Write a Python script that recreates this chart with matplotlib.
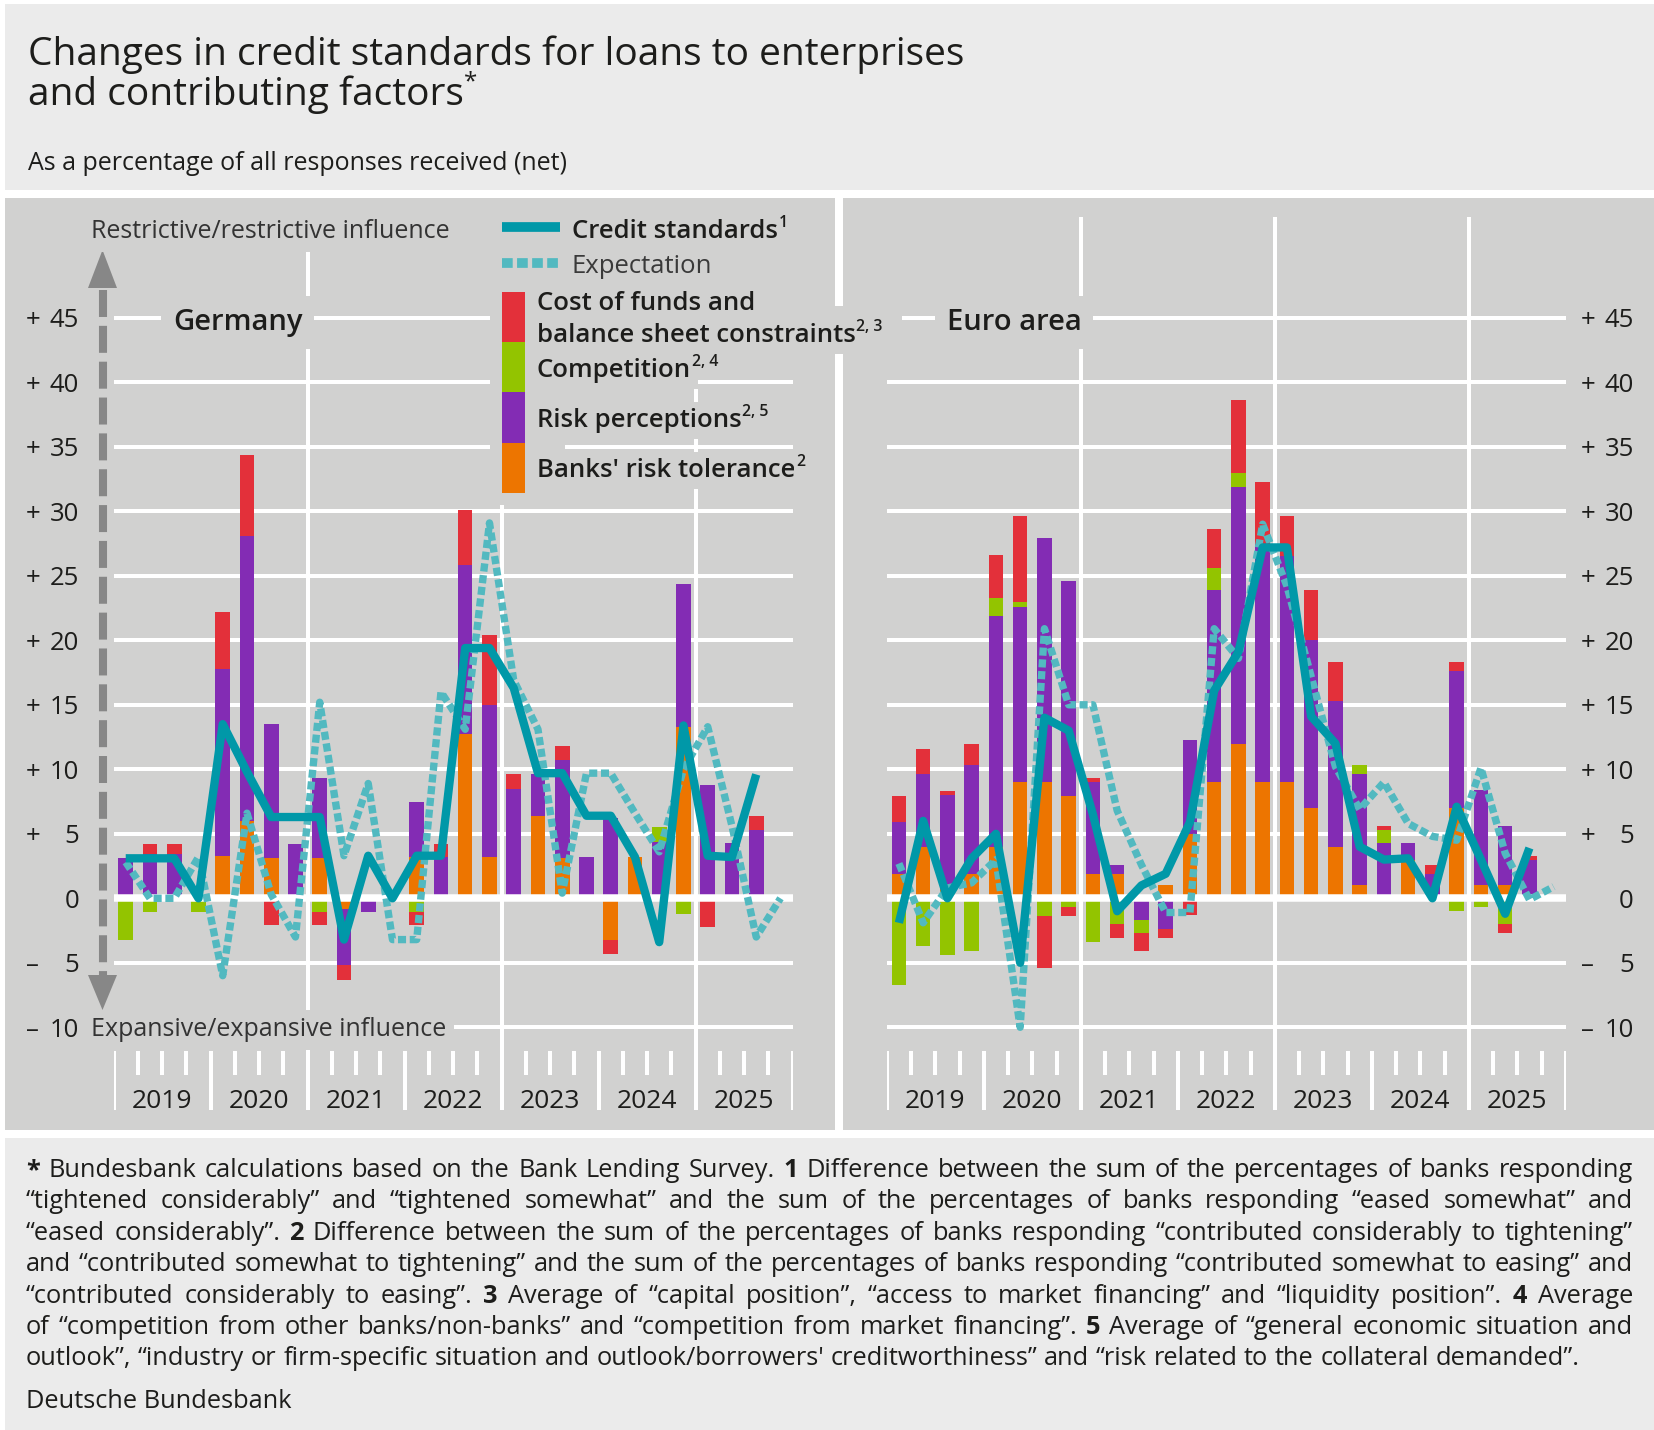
import numpy as np
import matplotlib.pyplot as plt
from matplotlib.patches import Rectangle, Polygon

plt.rcParams['font.family'] = ['Open Sans', 'DejaVu Sans']

W, H = 1654, 1430
PANEL = '#d1d1d0'
LIGHT = '#ebebeb'
INK = '#1d1d1b'
C_FUND = '#e3303a'
C_COMP = '#93c400'
C_RISK = '#832cb4'
C_TOL = '#ed7500'
C_STD = '#0098a8'
C_EXP = '#52b9c0'

years = ['2019', '2020', '2021', '2022', '2023', '2024', '2025']
# quarterly values 2019 Q1 ... 2025 Q3 (expectation runs one quarter longer)

# Germany
de_tolerance = [0, 0, 0, 0, 3.3, 6.0, 3.1, 0, 3.1, -0.8, 0, 0, 3.2, 0, 12.7, 3.2,
                0, 6.4, 3.1, 0, -3.2, 3.2, 0, 13.3, 0, 0, 0]
de_risk = [3.1, 3.4, 3.4, 0, 14.5, 22.1, 10.4, 4.2, 6.2, -4.4, -1.1, 0, 4.3, 3.2, 13.1, 11.8,
           8.5, 3.2, 7.6, 3.2, 6.2, 0, 4.4, 11.1, 8.8, 4.3, 5.3]
de_competition = [-3.2, -1.1, 0, -1.1, 0, 0, 0, 0, -1.1, 0, 0, 0, -1.1, 0, 0, 0,
                  0, 0, 0, 0, 0, 0, 1.1, -1.2, 0, 0, 0]
de_funding = [0, 0.8, 0.8, 0, 4.4, 6.3, -2.1, 0, -1.0, -1.1, 0, 0, -1.0, 1.0, 4.3, 5.4,
              1.1, 0, 1.1, 0, -1.1, 0, 0, 0, -2.2, 0, 1.1]
de_standards = [3.1, 3.1, 3.1, 0, 13.5, 9.8, 6.3, 6.3, 6.3, -3.2, 3.3, 0, 3.3, 3.3, 19.4, 19.4,
                16.3, 9.7, 9.7, 6.4, 6.4, 3.2, -3.4, 13.4, 3.3, 3.2, 9.6]
de_expectation = [2.8, 0, 0, 3.2, -6.0, 6.6, 0.3, -3.0, 15.2, 3.3, 8.9, -3.2, -3.2, 16.0, 13.1, 29.1,
                  16.9, 13.1, 0.4, 9.7, 9.7, 6.6, 3.6, 10.0, 13.3, 5.6, -3.0, 0]

# Euro area
ea_tolerance = [1.9, 4.0, 1.0, 1.9, 4.0, 9.0, 9.0, 7.9, 1.9, 1.9, 0, 1.0, 5.0, 9.0, 12.0, 9.0,
                9.0, 7.0, 4.0, 1.0, 0, 3.0, 0, 7.0, 1.0, 1.0, 0]
ea_risk = [4.0, 5.6, 7.0, 8.4, 17.9, 13.6, 18.9, 16.7, 7.1, 0.7, -1.7, -2.4, 7.3, 14.9, 19.9, 18.5,
           17.5, 13.0, 11.3, 8.6, 4.3, 1.3, 1.9, 10.6, 7.4, 4.6, 3.0]
ea_competition = [-6.7, -3.7, -4.4, -4.1, 1.4, 0.4, -1.4, -0.7, -3.4, -2.0, -1.0, 0, 0, 1.7, 1.1, 0,
                  0, 0, 0, 0.7, 1.0, 0, 0, -1.0, -0.7, -2.0, 0]
ea_funding = [2.0, 2.0, 0.3, 1.7, 3.3, 6.6, -4.0, -0.7, 0.3, -1.1, -1.4, -0.7, -1.3, 3.0, 5.6, 4.8,
              3.1, 3.9, 3.0, 0, 0.3, 0, 0.7, 0.7, 0, -0.7, 0.3]
ea_standards = [-1.9, 6.0, 0, 3.1, 5.0, -5.0, 14.0, 13.0, 6.5, -1.0, 1.0, 1.9, 5.9, 16.1, 19.1, 27.2,
                27.2, 14.1, 12.0, 4.0, 3.0, 3.1, 0, 7.1, 3.0, -1.2, 3.9]
ea_expectation = [2.7, -1.9, 0.8, 1.2, 3.0, -10.0, 20.9, 15.0, 15.0, 6.8, 2.6, -1.1, -1.1, 20.9, 18.6, 29.0,
                  24.2, 17.2, 10.2, 6.9, 9.0, 5.8, 4.8, 4.5, 10.1, 3.5, -0.1, 0.9]

notes = [
    '* Bundesbank calculations based on the Bank Lending Survey. 1 Difference between the sum of the percentages of banks responding',
    '“tightened considerably” and “tightened somewhat” and the sum of the percentages of banks responding “eased somewhat” and',
    '“eased considerably”. 2 Difference between the sum of the percentages of banks responding “contributed considerably to tightening”',
    'and “contributed somewhat to tightening” and the sum of the percentages of banks responding “contributed somewhat to easing” and',
    '“contributed considerably to easing”. 3 Average of “capital position”, “access to market financing” and “liquidity position”. 4 Average',
    'of “competition from other banks/non-banks” and “competition from market financing”. 5 Average of “general economic situation and',
    'outlook”, “industry or firm-specific situation and outlook/borrowers\' creditworthiness” and “risk related to the collateral demanded”.',
]

# pixel layout of the original graphic
ZERO, UNIT = 898.3, 12.9
TOP, BOTTOM = 217, 1110

fig = plt.figure(figsize=(W / 100, H / 100), dpi=100)
r = fig.canvas.get_renderer()

bg = fig.add_axes([0, 0, 1, 1], zorder=0)
bg.set_xlim(0, W)
bg.set_ylim(H, 0)
bg.axis('off')
for x0, y0, x1, y1, c in [(5, 4, W, 190, LIGHT), (5, 198, 835, 1130, PANEL),
                          (843, 198, W, 1130, PANEL), (5, 1138, W, H, LIGHT)]:
    bg.add_patch(Rectangle((x0, y0), x1 - x0, y1 - y0, color=c, lw=0))


def draw_panel(x0, tol, risk, comp, fund, std, exp):
    ax = fig.add_axes([x0 / W, 1 - BOTTOM / H, 679 / W, (BOTTOM - TOP) / H], zorder=1)
    ax.set_xlim(0, 28)
    lo, hi = (ZERO - BOTTOM) / UNIT, (ZERO - TOP) / UNIT
    ax.set_ylim(lo, hi)
    ax.axis('off')
    tick_top = (ZERO - 1051) / UNIT
    ax.hlines([v for v in range(-10, 50, 5) if v != 0], 0, 28, color='white', lw=2.9, zorder=1)
    ax.vlines([8, 16, 24], lo, hi, color='white', lw=2.9, zorder=1)
    ax.vlines([0, 4, 12, 20, 28], lo, tick_top, color='white', lw=2.9)
    ax.vlines([q for q in range(28) if q % 4], (ZERO - 1075) / UNIT, tick_top, color='white', lw=2.9)
    for i, y in enumerate(years):
        ax.text(4 * i + 2, lo + 0.15, y, ha='center', va='baseline', fontsize=19, color=INK)

    x = np.arange(len(std)) + 0.5
    pos = np.zeros(len(x))
    neg = np.zeros(len(x))
    for vals, c in [(tol, C_TOL), (risk, C_RISK), (comp, C_COMP), (fund, C_FUND)]:
        v = np.array(vals, dtype=float)
        ax.bar(x, v, 0.6, bottom=np.where(v >= 0, pos, neg), color=c, lw=0, zorder=2)
        pos += np.clip(v, 0, None)
        neg += np.clip(v, None, 0)
    ax.hlines(0, 0, 28, color='white', lw=5.4, zorder=3)

    ax.plot(np.arange(len(exp)) + 0.5, exp, color=C_EXP, lw=5.3, ls=(0, (1.1, 0.5)),
            dash_capstyle='butt', zorder=4)
    ax.plot(x, std, color=C_STD, lw=6, solid_joinstyle='round', solid_capstyle='butt', zorder=5)


draw_panel(113.6, de_tolerance, de_risk, de_competition, de_funding, de_standards, de_expectation)
draw_panel(886.8, ea_tolerance, ea_risk, ea_competition, ea_funding, ea_standards, ea_expectation)

fg = fig.add_axes([0, 0, 1, 1], zorder=3)
fg.set_xlim(0, W)
fg.set_ylim(H, 0)
fg.axis('off')


def box(pad=0.25):
    return dict(boxstyle='square,pad=%s' % pad, fc=PANEL, ec='none')


def label(x, y, s, size, sup=None, weight='normal', color=INK, bbox=None):
    t = fg.text(x, y, s, fontsize=size, weight=weight, color=color, va='baseline', bbox=bbox)
    if sup:
        x1 = t.get_window_extent(r).x1
        fg.text(x1 + 0.5, y - 0.42 * size * 100 / 72, sup, fontsize=size * 0.62, weight=weight,
                color=color, va='baseline', bbox=box(0.1) if bbox else None)
    return t


# title block
fg.text(28, 65, 'Changes in credit standards for loans to enterprises', fontsize=28, color=INK, va='baseline')
label(28, 105, 'and contributing factors', 28, sup='*')
fg.text(28, 170, 'As a percentage of all responses received (net)', fontsize=18, color=INK, va='baseline')

# y tick labels on both sides
for v in range(-10, 50, 5):
    y = ZERO - UNIT * v + 9.4
    sign = '+' if v > 0 else ('–' if v < 0 else '')
    for sx, nx in [(26, 79), (1581, 1634)]:
        if sign:
            fg.text(sx, y, sign, fontsize=18.5, color=INK, va='baseline')
        fg.text(nx, y, str(abs(v)), fontsize=18.5, color=INK, va='baseline', ha='right')

# direction arrow
fg.plot([102.5, 102.5], [290, 975], color='#878787', lw=5.8, ls=(0, (3.35, 1.1)), dash_capstyle='butt')
fg.add_patch(Polygon([(88, 288), (117, 288), (102.5, 250)], color='#878787', lw=0))
fg.add_patch(Polygon([(88, 975), (117, 975), (102.5, 1010)], color='#878787', lw=0))
fg.text(91, 238, 'Restrictive/restrictive influence', fontsize=18, color='#333333', va='baseline', bbox=box(0.3))
fg.text(91, 1036, 'Expansive/expansive influence', fontsize=18, color='#333333', va='baseline', bbox=box(0.3))

fg.text(173, 330, 'Germany', fontsize=21, weight='semibold', color=INK, va='baseline', bbox=box(0.4))
fg.text(947, 330, 'Euro area', fontsize=21, weight='semibold', color=INK, va='baseline', bbox=box(0.4))

# legend
fg.add_patch(Rectangle((490, 200), 75, 305, color=PANEL, lw=0))
fg.add_patch(Rectangle((490, 306), 412, 47, color=PANEL, lw=0))
fg.plot([502, 560], [227, 227], color=C_STD, lw=7, solid_capstyle='butt')
fg.plot([502, 560], [263, 263], color=C_EXP, lw=7, ls=(0, (1.1, 0.45)), dash_capstyle='butt')
label(572, 238, 'Credit standards', 18.5, sup='1', weight='semibold', bbox=box())
label(572, 273, 'Expectation', 18.5, color='#3a3a3a', bbox=box())
for y0, y1, c in [(292, 342, C_FUND), (342, 392, C_COMP), (392, 443, C_RISK), (443, 493, C_TOL)]:
    fg.add_patch(Rectangle((502, y0), 23, y1 - y0, color=c, lw=0))
label(537, 310, 'Cost of funds and', 18.5, weight='semibold', bbox=box())
label(537, 342, 'balance sheet constraints', 18.5, sup='2, 3', weight='semibold', bbox=box())
label(537, 377, 'Competition', 18.5, sup='2, 4', weight='semibold', bbox=box())
label(537, 427, 'Risk perceptions', 18.5, sup='2, 5', weight='semibold', bbox=box())
label(537, 477, "Banks' risk tolerance", 18.5, sup='2', weight='semibold', bbox=box())

# footnotes, justified word by word
marks = {'*', '1', '2', '3', '4', '5'}
left, right = 26, 1633
size = 18.5
while True:
    rows = []
    for i, line in enumerate(notes):
        rows.append([fg.text(0, 1177 + 31.4 * i, w, fontsize=size, color=INK, va='baseline',
                             weight='bold' if w in marks else 'normal') for w in line.split(' ')])
    widths = [[t.get_window_extent(r).width for t in row] for row in rows]
    space = 0.26 * size * 100 / 72
    if max(sum(w) + space * (len(w) - 1) for w in widths) <= right - left or size < 12:
        break
    for row in rows:
        for t in row:
            t.remove()
    size -= 0.25

for i, (row, w) in enumerate(zip(rows, widths)):
    gap = space if i == len(rows) - 1 else (right - left - sum(w)) / (len(w) - 1)
    x = left
    for t, wi in zip(row, w):
        t.set_x(x)
        x += wi + gap
fg.text(26, 1408, 'Deutsche Bundesbank', fontsize=size, color=INK, va='baseline')

fig.savefig('out.png', dpi=100)
